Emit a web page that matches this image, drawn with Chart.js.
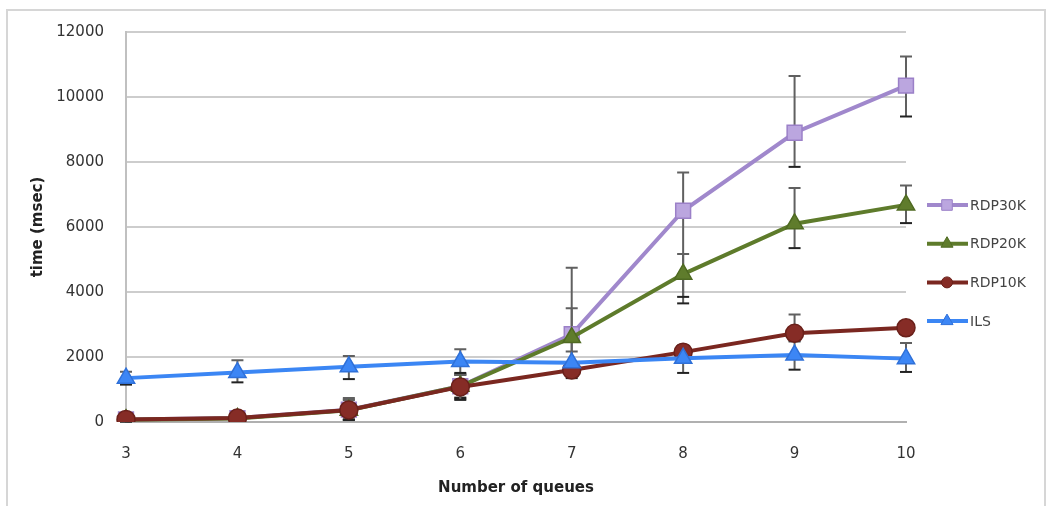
<!DOCTYPE html>
<html>
<head>
<meta charset="utf-8">
<script src="https://cdn.jsdelivr.net/npm/chart.js@4.4.1/dist/chart.umd.min.js"></script>
<style>
  html, body { margin: 0; padding: 0; background: #fff; }
  #wrap { position: relative; width: 1052px; height: 506px; overflow: hidden; }
  #frame { position: absolute; left: 6px; top: 9px; width: 1040px; height: 520px; border: 2px solid #d6d6d6; box-sizing: border-box; }
  canvas { position: absolute; left: 0; top: 0; }
</style>
</head>
<body>
<div id="wrap">
  <div id="frame"></div>
  <canvas id="c" width="1052" height="506"></canvas>
</div>
<script>
// ---- data ----
const categories = ['3', '4', '5', '6', '7', '8', '9', '10'];
const seriesNames = ['RDP30K', 'RDP20K', 'RDP10K', 'ILS'];

const rdp30k      = [80, 120, 380, 1100, 2700, 6500, 8900, 10350];
const rdp30kPlus  = [60, 60, 300, 350, 2050, 1180, 1750, 900];
const rdp30kMinus = [60, 60, 300, 350, 1000, 2850, 1050, 950];

const rdp20k      = [70, 110, 360, 1100, 2600, 4550, 6100, 6680];
const rdp20kPlus  = [60, 60, 330, 350, 900, 620, 1100, 600];
const rdp20kMinus = [60, 60, 300, 380, 900, 700, 750, 560];

const rdp10k      = [80, 120, 370, 1080, 1600, 2150, 2730, 2900];
const rdp10kPlus  = [40, 50, 370, 400, 250, 200, 580, 200];
const rdp10kMinus = [40, 50, 300, 400, 250, 200, 250, 200];

const ils      = [1350, 1520, 1700, 1860, 1820, 1960, 2060, 1950];
const ilsPlus  = [200, 380, 330, 380, 350, 400, 450, 480];
const ilsMinus = [200, 300, 380, 350, 350, 450, 450, 410];

const yTicks = [0, 2000, 4000, 6000, 8000, 10000, 12000];

// ---- styles ----
const FONT = '"DejaVu Sans", "Liberation Sans", sans-serif';

const errPlus  = [rdp30kPlus, rdp20kPlus, rdp10kPlus, ilsPlus];
const errMinus = [rdp30kMinus, rdp20kMinus, rdp10kMinus, ilsMinus];

function mkDs(label, data, line, fill, border, style, radius, order) {
  return {
    label, data,
    borderColor: line, borderWidth: 4,
    backgroundColor: fill,
    pointStyle: style, pointRadius: radius, pointHoverRadius: radius,
    pointBackgroundColor: fill, pointBorderColor: border, pointBorderWidth: 1.5,
    tension: 0, order
  };
}

const datasets = [
  mkDs(seriesNames[0], rdp30k, '#a088cc', '#bba6df', '#9b80c8', 'rect', 10.5, 3),
  mkDs(seriesNames[1], rdp20k, '#5e7b2b', '#5f7c2c', '#4f6a22', 'triangle', 10, 2),
  mkDs(seriesNames[2], rdp10k, '#7a2720', '#862c26', '#6a201a', 'circle', 9, 1),
  mkDs(seriesNames[3], ils,    '#3b86f4', '#3c86f5', '#2f70d8', 'triangle', 10, 0)
];

const errorBars = {
  id: 'errorBars',
  beforeDatasetsDraw(chart) {
    const ctx = chart.ctx;
    const xs = chart.scales.x, ys = chart.scales.y;
    ctx.save();
    ctx.lineWidth = 2;
    chart.data.datasets.forEach((ds, di) => {
      ds.data.forEach((v, i) => {
        const x = xs.getPixelForValue(i);
        const yt = ys.getPixelForValue(v + errPlus[di][i]);
        const yb = ys.getPixelForValue(v - errMinus[di][i]);
        ctx.strokeStyle = '#606060';
        ctx.beginPath();
        ctx.moveTo(x, yt); ctx.lineTo(x, yb);
        ctx.moveTo(x - 6, yt); ctx.lineTo(x + 6, yt);
        ctx.stroke();
        ctx.strokeStyle = '#222';
        ctx.beginPath();
        ctx.moveTo(x - 6, yb); ctx.lineTo(x + 6, yb);
        ctx.stroke();
      });
    });
    ctx.restore();
  }
};

function drawMarker(ctx, style, x, y, r, fill, border) {
  ctx.fillStyle = fill; ctx.strokeStyle = border; ctx.lineWidth = 1;
  ctx.beginPath();
  if (style === 'rect') {
    const s = r * Math.SQRT1_2;
    ctx.rect(x - s, y - s, 2 * s, 2 * s);
  } else if (style === 'triangle') {
    const w = r * Math.sqrt(3) / 2;
    ctx.moveTo(x, y - r);
    ctx.lineTo(x + w, y + r / 2);
    ctx.lineTo(x - w, y + r / 2);
    ctx.closePath();
  } else {
    ctx.arc(x, y, r, 0, Math.PI * 2);
  }
  ctx.fill(); ctx.stroke();
}

const sideLegend = {
  id: 'sideLegend',
  afterDraw(chart) {
    const ctx = chart.ctx;
    const area = chart.chartArea;
    const x0 = area.right + 21;
    const y0 = area.top + 173;
    ctx.save();
    chart.data.datasets.forEach((ds, i) => {
      const y = y0 + i * 38.7;
      ctx.strokeStyle = ds.borderColor; ctx.lineWidth = 4;
      ctx.beginPath(); ctx.moveTo(x0, y); ctx.lineTo(x0 + 41, y); ctx.stroke();
      const rr = ds.pointStyle === 'circle' ? 5.5 : (ds.pointStyle === 'rect' ? 7.5 : 7);
      drawMarker(ctx, ds.pointStyle, x0 + 20, y, rr, ds.pointBackgroundColor, ds.pointBorderColor);
      ctx.fillStyle = '#444';
      ctx.font = '14px ' + FONT;
      ctx.textBaseline = 'middle';
      ctx.textAlign = 'left';
      ctx.fillText(ds.label, x0 + 43, y + 1);
    });
    ctx.restore();
  }
};

new Chart(document.getElementById('c'), {
  type: 'line',
  data: { labels: categories, datasets },
  plugins: [errorBars, sideLegend],
  options: {
    responsive: false,
    animation: false,
    events: [],
    layout: { padding: { left: 0, right: 146, top: 32, bottom: 0 } },
    plugins: { legend: { display: false }, tooltip: { enabled: false } },
    scales: {
      x: {
        type: 'category',
        offset: false,
        grid: { display: false, drawTicks: false },
        border: { display: true, color: '#b0b0b0', width: 2 },
        ticks: { color: '#333', font: { family: FONT, size: 15 }, padding: 23, maxRotation: 0 },
        title: { display: true, text: 'Number of queues', color: '#222',
                 font: { family: FONT, size: 15, weight: 'bold' }, padding: { top: 0, bottom: 9 } },
        afterFit(s) { s.height = 84; }
      },
      y: {
        min: 0, max: 12000,
        afterBuildTicks(s) { s.ticks = yTicks.map(v => ({ value: v })); },
        grid: { color: '#cdcdcd', lineWidth: 2, drawTicks: false },
        border: { display: true, color: '#c0c0c0', width: 2 },
        ticks: { color: '#333', font: { family: FONT, size: 15 }, padding: 22,
                 callback: v => String(v) },
        title: { display: true, text: 'time (msec)', color: '#222',
                 font: { family: FONT, size: 15, weight: 'bold' }, padding: { top: 29, bottom: 0 } },
        afterFit(s) { s.width = 126; }
      }
    }
  }
});
</script>
</body>
</html>
